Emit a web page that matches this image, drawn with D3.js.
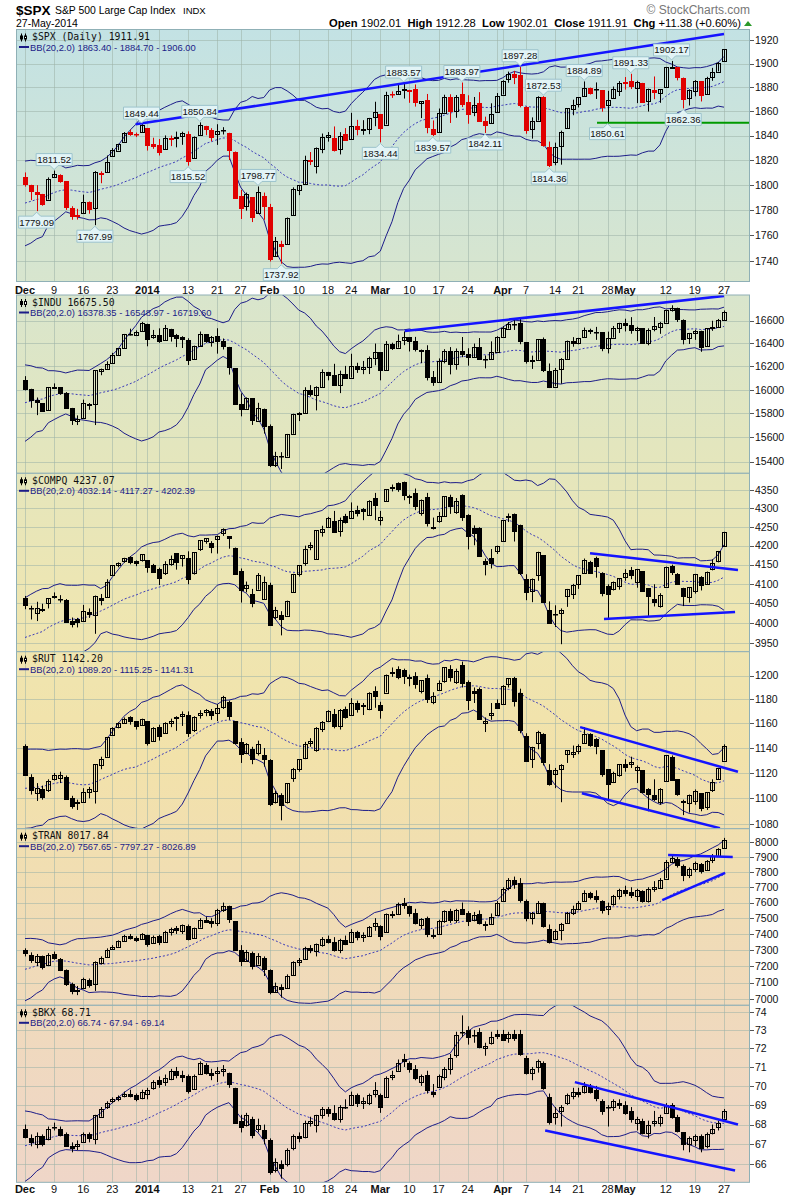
<!DOCTYPE html>
<html>
<head>
<meta charset="utf-8">
<script src="https://cdn.jsdelivr.net/npm/d3@7"></script>
<style>
  body { margin: 0; background: #fff; }
  svg { display: block; font-family: "Liberation Sans", Arial, sans-serif; }
</style>
</head>
<body>
<svg id="chart" width="800" height="1200"></svg>
<script>
// ---- trading days Dec 2 2013 .. May 27 2014 ----
const dates = [
  "Dec 2","Dec 3","Dec 4","Dec 5","Dec 6","Dec 9","Dec 10","Dec 11","Dec 12","Dec 13","Dec 16","Dec 17","Dec 18","Dec 19","Dec 20","Dec 23","Dec 24","Dec 26","Dec 27","Dec 30","Dec 31",
  "Jan 2","Jan 3","Jan 6","Jan 7","Jan 8","Jan 9","Jan 10","Jan 13","Jan 14","Jan 15","Jan 16","Jan 17","Jan 21","Jan 22","Jan 23","Jan 24","Jan 27","Jan 28","Jan 29","Jan 30","Jan 31",
  "Feb 3","Feb 4","Feb 5","Feb 6","Feb 7","Feb 10","Feb 11","Feb 12","Feb 13","Feb 14","Feb 18","Feb 19","Feb 20","Feb 21","Feb 24","Feb 25","Feb 26","Feb 27","Feb 28",
  "Mar 3","Mar 4","Mar 5","Mar 6","Mar 7","Mar 10","Mar 11","Mar 12","Mar 13","Mar 14","Mar 17","Mar 18","Mar 19","Mar 20","Mar 21","Mar 24","Mar 25","Mar 26","Mar 27","Mar 28","Mar 31",
  "Apr 1","Apr 2","Apr 3","Apr 4","Apr 7","Apr 8","Apr 9","Apr 10","Apr 11","Apr 14","Apr 15","Apr 16","Apr 17","Apr 21","Apr 22","Apr 23","Apr 24","Apr 25","Apr 28","Apr 29","Apr 30",
  "May 1","May 2","May 5","May 6","May 7","May 8","May 9","May 12","May 13","May 14","May 15","May 16","May 19","May 20","May 21","May 22","May 23","May 27"
];

// x axis labels (index into dates) and grid positions
const xTickIdx   = [0, 5, 10, 15, 21, 28, 33, 37, 42, 47, 52, 56, 61, 66, 71, 76, 82, 86, 91, 95, 100, 103, 110, 115, 120];
const xTickLabel = ["Dec","9","16","23","2014","13","21","27","Feb","10","18","24","Mar","10","17","24","Apr","7","14","21","28","May","12","19","27"];
const xTickBold  = ["Dec","2014","Feb","Mar","Apr","May"];
const gridIdx    = [0,5,10,15,19,21,23,28,33,37,42,47,52,56,61,66,71,76,81,82,86,91,95,100,103,105,110,115,120];

// ---- closes before Dec 2 (for the 20-day bands) ----
const spxPre  = [1767.93,1762.97,1770.49,1747.15,1770.61,1771.89,1767.69,1782.00,1790.62,1798.18,1791.53,1787.87,1781.37,1795.85,1804.76,1802.48,1802.75,1807.23,1805.81];
const induPre = [15639,15618,15747,15594,15762,15783,15751,15822,15876,15962,15976,15967,15901,16010,16065,16073,16073,16097,16086];
const compPre = [3937,3940,3932,3857,3919,3920,3920,3966,3973,3986,3949,3932,3921,3969,3992,3995,4018,4045,4060];
const rutPre  = [1102,1094,1095,1083,1099,1100,1098,1110,1112,1114,1100,1093,1089,1107,1117,1116,1128,1139,1143];
const tranPre = [7050,7020,7060,7000,7100,7120,7130,7170,7190,7220,7200,7180,7200,7250,7280,7270,7290,7310,7300];
const bkxPre  = [65.5,65.3,65.8,65.2,66.2,66.5,66.6,66.9,67.2,67.6,67.4,67.1,67.0,67.6,68.0,67.9,67.8,67.9,67.7];

// ---- daily [open, high, low, close] ----
const spx = [
[1806.55,1810.02,1798.60,1800.90],[1800.10,1800.10,1787.85,1795.15],[1794.08,1799.80,1779.09,1792.81],[1792.82,1792.82,1783.38,1785.03],[1788.36,1806.04,1788.36,1805.09],
[1806.21,1811.52,1806.21,1808.37],[1807.60,1808.52,1801.75,1802.62],[1802.76,1802.97,1780.09,1782.22],[1781.71,1782.99,1772.28,1775.50],[1776.02,1780.92,1772.45,1775.32],
[1777.48,1792.22,1777.48,1786.54],[1786.47,1786.77,1777.05,1781.00],[1781.46,1811.08,1767.99,1810.65],[1809.00,1810.88,1801.35,1809.60],[1810.39,1823.75,1810.25,1818.32],
[1822.92,1829.75,1822.92,1827.99],[1828.02,1833.32,1828.02,1833.32],[1834.96,1842.84,1834.96,1842.02],[1842.97,1844.89,1839.81,1841.40],[1841.47,1842.47,1838.77,1841.07],[1842.61,1849.44,1842.41,1848.36],
[1845.86,1845.86,1827.74,1831.98],[1833.21,1838.24,1829.13,1831.37],[1832.31,1837.16,1823.73,1826.77],[1828.71,1840.10,1828.71,1837.88],[1837.90,1840.02,1831.40,1837.49],
[1839.00,1843.23,1830.38,1838.13],[1840.06,1843.15,1832.43,1842.37],[1841.26,1843.45,1815.52,1819.20],[1821.36,1839.26,1821.36,1838.88],[1840.52,1850.84,1840.52,1848.38],
[1847.99,1847.99,1840.30,1845.89],[1844.23,1846.04,1835.23,1838.70],[1841.05,1849.31,1832.38,1843.80],[1844.71,1846.87,1840.88,1844.86],[1842.29,1842.29,1820.06,1828.46],
[1826.96,1826.96,1790.29,1790.29],[1791.03,1795.98,1772.88,1781.56],[1783.00,1793.87,1779.49,1792.50],[1790.15,1790.15,1770.45,1774.20],[1777.17,1798.77,1777.17,1794.19],[1790.88,1793.88,1772.26,1782.59],
[1782.68,1784.83,1739.66,1741.89],[1743.82,1758.73,1743.82,1755.20],[1753.38,1755.79,1737.92,1751.64],[1752.99,1774.06,1752.99,1773.43],[1776.01,1798.03,1776.01,1797.02],
[1796.20,1799.94,1791.83,1799.84],[1800.45,1823.54,1800.41,1819.75],[1820.12,1826.55,1815.97,1819.26],[1814.82,1830.25,1809.22,1829.83],[1828.46,1841.65,1825.59,1838.63],
[1839.03,1842.87,1835.01,1840.76],[1838.22,1847.50,1826.99,1828.75],[1829.24,1842.79,1824.58,1839.78],[1841.07,1846.13,1835.60,1836.25],[1836.78,1858.71,1836.78,1847.61],
[1847.66,1852.91,1840.19,1845.12],[1845.79,1852.65,1840.66,1845.16],[1844.90,1854.53,1841.13,1854.29],[1855.12,1867.92,1847.67,1859.45],
[1857.68,1857.68,1834.44,1845.73],[1849.23,1876.23,1849.23,1873.91],[1874.05,1876.53,1871.11,1873.81],[1874.18,1881.94,1874.18,1877.03],[1878.52,1883.57,1870.56,1878.04],
[1877.86,1877.87,1867.04,1877.17],[1878.26,1882.35,1863.88,1867.63],[1866.15,1868.38,1854.38,1868.20],[1869.06,1874.40,1841.86,1846.34],[1845.07,1852.44,1839.57,1841.13],
[1842.81,1862.30,1842.81,1858.83],[1858.92,1873.76,1858.92,1872.25],[1872.25,1874.14,1850.35,1860.77],[1860.09,1873.49,1854.63,1872.01],[1874.53,1883.97,1863.46,1866.52],
[1867.67,1873.34,1849.69,1857.44],[1859.48,1871.87,1855.96,1865.62],[1867.09,1875.92,1852.56,1852.56],[1852.11,1855.55,1842.11,1849.04],[1850.07,1866.63,1850.07,1857.62],[1859.16,1875.18,1859.16,1872.34],
[1873.96,1885.84,1873.96,1885.52],[1886.61,1893.17,1883.79,1890.90],[1891.43,1893.80,1882.65,1888.77],[1890.25,1897.28,1863.26,1865.09],[1863.92,1864.04,1841.48,1845.04],
[1845.48,1854.95,1837.49,1851.96],[1852.64,1872.43,1852.38,1872.18],[1872.28,1872.53,1830.87,1833.08],[1830.65,1835.07,1814.36,1815.69],[1818.18,1834.19,1815.80,1830.61],
[1831.45,1844.02,1816.29,1842.98],[1846.01,1862.31,1846.01,1862.31],[1861.73,1869.63,1856.72,1864.85],[1865.79,1871.89,1863.18,1871.89],[1872.57,1884.89,1872.57,1879.55],
[1879.32,1879.75,1873.91,1875.39],[1878.72,1884.06,1870.24,1878.61],[1877.72,1877.72,1859.70,1863.40],[1865.00,1877.01,1850.61,1869.43],[1870.78,1880.60,1870.78,1878.33],[1877.10,1885.20,1872.69,1883.95],
[1884.66,1888.59,1878.04,1883.68],[1885.30,1891.33,1878.50,1881.14],[1879.45,1885.51,1866.77,1884.66],[1883.69,1883.69,1867.72,1867.72],[1868.53,1878.83,1859.79,1878.21],
[1877.39,1889.07,1870.05,1875.63],[1875.27,1878.57,1867.02,1878.48],[1880.03,1897.13,1880.03,1896.65],[1896.75,1902.17,1896.06,1897.45],[1897.13,1897.13,1885.77,1888.53],
[1888.16,1888.16,1862.36,1870.85],[1871.19,1878.28,1864.82,1877.86],[1876.66,1886.00,1872.42,1885.08],[1884.88,1884.88,1868.14,1872.83],[1874.39,1888.80,1874.39,1888.03],
[1888.19,1896.33,1885.39,1892.49],[1893.32,1901.26,1893.32,1900.53],[1902.01,1912.28,1902.01,1911.91]
];

const indu = [
[16086,16117,15995,16009],[16008,16009,15848,15915],[15910,15935,15786,15890],[15887,15888,15820,15822],[15823,16021,15823,16020],
[16020,16055,16019,16026],[16024,16024,15958,15973],[15972,15981,15842,15844],[15843,15847,15704,15739],[15740,15784,15703,15755],
[15759,15917,15759,15885],[15884,15888,15831,15875],[15876,16168,15703,16168],[16165,16182,16125,16179],[16180,16245,16180,16221],
[16223,16318,16223,16295],[16296,16358,16295,16358],[16360,16483,16360,16480],[16480,16529,16470,16478],[16478,16514,16464,16504],[16504,16589,16504,16577],
[16573,16573,16375,16441],[16456,16518,16440,16470],[16474,16532,16405,16425],[16429,16562,16429,16531],[16527,16528,16416,16463],
[16471,16483,16368,16445],[16453,16463,16360,16437],[16434,16445,16213,16258],[16262,16381,16262,16374],[16377,16504,16377,16482],
[16480,16481,16405,16417],[16414,16465,16372,16459],[16461,16533,16311,16414],[16418,16443,16347,16373],[16370,16370,16130,16197],
[16185,16185,15879,15879],[15880,15970,15776,15838],[15839,15936,15839,15929],[15927,15927,15704,15739],[15743,15890,15743,15849],[15841,15841,15632,15699],
[15698,15708,15356,15373],[15372,15481,15356,15445],[15443,15478,15340,15440],[15443,15629,15443,15629],[15630,15798,15630,15794],
[15794,15811,15736,15802],[15804,16022,15804,15995],[15995,16040,15943,15964],[15958,16030,15826,16028],[16027,16175,16019,16154],
[16154,16154,16081,16130],[16128,16223,16034,16041],[16041,16164,15972,16133],[16134,16205,16097,16103],[16104,16310,16104,16207],
[16206,16232,16145,16180],[16180,16248,16134,16198],[16194,16286,16135,16273],[16274,16399,16211,16322],
[16321,16321,16081,16168],[16170,16420,16170,16396],[16397,16406,16343,16360],[16363,16477,16363,16422],[16424,16505,16385,16453],
[16452,16452,16330,16419],[16421,16457,16330,16351],[16347,16347,16229,16340],[16344,16384,16080,16109],[16106,16161,16034,16066],
[16066,16270,16066,16247],[16249,16350,16227,16336],[16338,16368,16132,16222],[16218,16356,16172,16331],[16332,16456,16280,16303],
[16306,16358,16207,16277],[16279,16399,16279,16368],[16369,16447,16268,16269],[16265,16295,16184,16264],[16264,16418,16264,16323],[16330,16463,16330,16458],
[16458,16551,16458,16533],[16533,16588,16529,16573],[16572,16622,16518,16573],[16575,16631,16393,16413],[16411,16411,16225,16246],
[16244,16294,16179,16256],[16257,16437,16257,16437],[16435,16452,16152,16170],[16162,16226,16015,16027],[16030,16187,16030,16173],
[16176,16272,16052,16263],[16266,16425,16266,16425],[16425,16455,16371,16409],[16408,16449,16392,16449],[16451,16539,16451,16514],
[16514,16529,16482,16502],[16503,16545,16431,16502],[16498,16498,16332,16361],[16363,16503,16313,16449],[16451,16553,16451,16535],[16535,16581,16491,16581],
[16580,16617,16505,16559],[16560,16631,16485,16513],[16510,16546,16420,16531],[16532,16533,16400,16401],[16404,16532,16384,16519],
[16521,16632,16506,16551],[16550,16589,16484,16583],[16584,16697,16584,16695],[16697,16736,16680,16715],[16715,16715,16588,16614],
[16610,16611,16392,16447],[16447,16492,16395,16491],[16491,16520,16431,16512],[16510,16511,16327,16374],[16376,16535,16376,16533],
[16535,16599,16510,16543],[16544,16615,16544,16606],[16605,16690,16605,16676]
];

const comp = [
[4063,4069,4035,4045],[4036,4044,4009,4037],[4025,4054,4005,4038],[4036,4049,4028,4033],[4051,4063,4037,4063],
[4066,4078,4062,4069],[4059,4071,4052,4060],[4059,4061,4001,4004],[4005,4014,3989,3998],[4009,4013,3989,4001],
[4005,4046,4005,4030],[4029,4037,4013,4024],[4022,4070,3973,4070],[4064,4074,4045,4058],[4067,4112,4066,4105],
[4122,4149,4121,4149],[4151,4156,4143,4155],[4160,4168,4155,4167],[4169,4172,4151,4157],[4159,4161,4146,4154],[4161,4177,4158,4177],
[4161,4161,4129,4143],[4149,4152,4131,4132],[4138,4142,4097,4114],[4129,4159,4123,4153],[4154,4174,4147,4166],
[4180,4180,4137,4156],[4167,4175,4145,4175],[4167,4185,4099,4113],[4128,4183,4124,4183],[4191,4215,4186,4215],
[4210,4219,4205,4219],[4208,4212,4180,4198],[4217,4227,4179,4226],[4231,4246,4226,4243],[4225,4225,4192,4219],
[4195,4195,4128,4128],[4134,4140,4052,4084],[4091,4106,4078,4098],[4074,4087,4040,4051],[4085,4128,4085,4123],[4059,4119,4059,4104],
[4098,4103,3993,3997],[4015,4041,4009,4032],[4021,4030,3969,4012],[4019,4057,4019,4057],[4079,4126,4077,4126],
[4125,4149,4119,4148],[4153,4200,4147,4191],[4195,4209,4188,4201],[4165,4241,4164,4241],[4235,4253,4224,4244],
[4248,4277,4247,4273],[4267,4293,4234,4238],[4239,4275,4224,4268],[4278,4285,4259,4263],[4273,4316,4273,4293],
[4296,4307,4278,4288],[4298,4301,4268,4292],[4282,4322,4280,4319],[4328,4342,4268,4308],
[4270,4293,4254,4277],[4319,4352,4319,4352],[4356,4365,4346,4358],[4369,4371,4345,4352],[4372,4373,4322,4336],
[4331,4337,4312,4334],[4342,4354,4295,4307],[4287,4324,4280,4323],[4330,4342,4251,4260],[4249,4275,4243,4245],
[4266,4290,4261,4280],[4280,4333,4278,4333],[4332,4337,4285,4308],[4289,4328,4285,4319],[4337,4338,4266,4277],
[4281,4284,4190,4226],[4248,4254,4201,4234],[4247,4249,4173,4174],[4159,4166,4122,4151],[4168,4191,4140,4156],[4186,4200,4178,4199],
[4212,4268,4212,4268],[4280,4286,4263,4276],[4285,4286,4211,4238],[4255,4256,4123,4128],[4113,4125,4058,4080],
[4083,4114,4053,4113],[4124,4184,4108,4184],[4175,4175,4052,4054],[4033,4055,3998,4000],[4024,4045,3990,4023],
[4027,4037,3947,4034],[4069,4087,4041,4086],[4073,4100,4061,4096],[4099,4122,4087,4122],[4128,4166,4126,4161],
[4157,4160,4126,4127],[4168,4171,4116,4148],[4129,4130,4068,4076],[4094,4099,4009,4074],[4086,4106,4083,4104],[4094,4115,4085,4115],
[4116,4138,4108,4127],[4136,4144,4112,4124],[4104,4139,4090,4138],[4133,4133,4080,4081],[4089,4089,4018,4068],
[4060,4099,4042,4052],[4044,4076,4039,4072],[4093,4145,4093,4144],[4146,4150,4123,4130],[4126,4128,4098,4101],
[4090,4090,4043,4069],[4065,4091,4052,4091],[4081,4126,4075,4126],[4117,4120,4083,4097],[4102,4132,4097,4132],
[4138,4164,4135,4154],[4160,4186,4156,4186],[4200,4237,4199,4237]
];

const rut = [
[1142,1143,1118,1119],[1117,1119,1103,1107],[1104,1112,1098,1108],[1107,1110,1099,1101],[1107,1115,1105,1114],
[1115,1120,1114,1118],[1116,1121,1112,1118],[1117,1118,1099,1100],[1100,1102,1092,1094],[1097,1099,1091,1096],
[1097,1108,1097,1105],[1105,1109,1100,1107],[1106,1127,1096,1127],[1126,1133,1123,1131],[1133,1149,1133,1149],
[1150,1157,1150,1156],[1157,1161,1156,1160],[1161,1165,1160,1164],[1165,1166,1159,1162],[1162,1162,1155,1158],[1159,1164,1158,1164],
[1162,1162,1142,1144],[1145,1157,1145,1156],[1157,1159,1146,1150],[1152,1161,1152,1160],[1160,1164,1157,1162],
[1164,1166,1154,1165],[1166,1170,1158,1168],[1167,1170,1149,1152],[1154,1166,1153,1165],[1167,1171,1164,1169],
[1169,1172,1166,1171],[1170,1172,1163,1167],[1169,1176,1162,1173],[1174,1183,1172,1182],[1178,1179,1163,1166],
[1162,1162,1143,1144],[1145,1148,1128,1135],[1136,1144,1135,1143],[1139,1141,1127,1131],[1136,1146,1134,1143],[1134,1140,1125,1131],
[1130,1131,1094,1095],[1097,1106,1096,1104],[1103,1104,1083,1095],[1097,1112,1096,1112],[1116,1124,1113,1123],
[1123,1131,1121,1131],[1132,1145,1131,1143],[1144,1148,1141,1146],[1138,1157,1137,1156],[1155,1162,1153,1161],
[1162,1171,1161,1170],[1168,1172,1156,1158],[1158,1172,1155,1171],[1172,1174,1164,1165],[1167,1181,1167,1177],
[1177,1179,1169,1172],[1174,1177,1167,1175],[1172,1186,1171,1185],[1187,1191,1173,1183],
[1175,1178,1164,1171],[1186,1201,1186,1201],[1202,1207,1199,1203],[1206,1208,1197,1199],[1205,1206,1193,1200],
[1199,1201,1191,1198],[1200,1203,1189,1193],[1187,1196,1185,1196],[1198,1201,1177,1180],[1178,1186,1176,1183],
[1188,1196,1187,1194],[1195,1207,1194,1207],[1206,1209,1195,1199],[1195,1206,1193,1204],[1209,1212,1190,1194],
[1195,1196,1171,1180],[1187,1190,1177,1185],[1189,1190,1164,1164],[1160,1165,1153,1162],[1167,1177,1163,1169],[1177,1180,1173,1173],
[1176,1192,1176,1191],[1193,1198,1190,1198],[1198,1199,1174,1179],[1185,1189,1152,1154],[1150,1152,1129,1130],
[1131,1141,1124,1141],[1144,1154,1139,1153],[1151,1152,1126,1128],[1122,1127,1110,1111],[1119,1124,1108,1122],
[1123,1127,1097,1126],[1135,1138,1128,1138],[1135,1142,1132,1137],[1138,1143,1135,1142],[1144,1157,1144,1151],
[1151,1152,1141,1142],[1147,1148,1135,1141],[1138,1138,1117,1119],[1123,1123,1098,1111],[1113,1121,1112,1120],[1118,1127,1117,1127],
[1127,1131,1121,1125],[1127,1133,1124,1129],[1123,1126,1112,1125],[1122,1122,1104,1105],[1107,1108,1090,1103],
[1103,1115,1098,1100],[1097,1108,1095,1107],[1113,1134,1113,1134],[1133,1134,1114,1115],[1115,1115,1102,1103],
[1097,1099,1087,1098],[1097,1103,1089,1103],[1098,1107,1095,1106],[1104,1104,1090,1092],[1093,1105,1091,1105],
[1107,1115,1105,1113],[1115,1124,1115,1124],[1130,1143,1130,1142]
];

const tran = [
[7300,7310,7260,7280],[7270,7285,7220,7240],[7230,7275,7200,7265],[7260,7265,7180,7190],[7210,7280,7200,7270],
[7275,7290,7240,7250],[7245,7250,7170,7180],[7175,7180,7080,7090],[7090,7100,7030,7045],[7050,7080,7025,7055],
[7065,7130,7060,7120],[7115,7125,7070,7085],[7090,7230,7050,7225],[7220,7260,7210,7250],[7255,7310,7250,7300],
[7305,7330,7300,7320],[7320,7360,7320,7355],[7360,7395,7355,7390],[7390,7400,7365,7375],[7375,7385,7350,7365],[7370,7405,7365,7400],
[7395,7395,7320,7340],[7345,7390,7340,7380],[7385,7395,7330,7345],[7350,7420,7350,7410],[7410,7440,7390,7430],
[7435,7450,7400,7420],[7420,7460,7400,7455],[7450,7460,7360,7370],[7375,7440,7370,7435],[7440,7500,7440,7490],
[7490,7510,7470,7480],[7480,7500,7440,7465],[7470,7560,7450,7550],[7555,7600,7540,7580],[7575,7580,7470,7490],
[7480,7480,7300,7300],[7300,7330,7200,7230],[7235,7300,7230,7290],[7280,7290,7180,7200],[7210,7280,7210,7265],[7250,7260,7140,7180],
[7175,7180,7030,7040],[7045,7100,7040,7080],[7075,7090,7010,7060],[7065,7150,7065,7140],[7145,7230,7140,7225],
[7225,7250,7200,7240],[7245,7320,7240,7310],[7310,7330,7280,7300],[7290,7340,7260,7335],[7335,7380,7320,7370],
[7370,7390,7340,7350],[7350,7380,7290,7300],[7300,7370,7280,7360],[7365,7390,7330,7340],[7345,7430,7345,7410],
[7410,7420,7360,7380],[7380,7410,7350,7395],[7390,7450,7385,7445],[7450,7500,7420,7470],
[7450,7455,7360,7390],[7410,7530,7410,7525],[7525,7545,7500,7520],[7525,7600,7520,7590],[7595,7630,7560,7580],
[7575,7580,7510,7530],[7535,7560,7460,7470],[7460,7500,7430,7495],[7500,7510,7380,7400],[7395,7430,7370,7390],
[7400,7490,7400,7480],[7480,7550,7470,7545],[7545,7560,7470,7490],[7485,7560,7470,7550],[7560,7600,7520,7530],
[7530,7545,7450,7480],[7490,7540,7480,7520],[7525,7550,7460,7465],[7460,7480,7420,7455],[7465,7530,7460,7510],[7520,7610,7520,7600],
[7610,7700,7605,7690],[7690,7760,7680,7745],[7745,7770,7690,7720],[7730,7760,7600,7620],[7610,7620,7480,7500],
[7500,7540,7460,7530],[7535,7610,7530,7600],[7595,7600,7440,7450],[7430,7460,7340,7350],[7370,7430,7360,7420],
[7420,7470,7360,7460],[7470,7540,7470,7535],[7535,7580,7520,7560],[7560,7610,7550,7600],[7610,7680,7605,7660],
[7660,7670,7620,7635],[7640,7680,7600,7620],[7610,7615,7530,7550],[7560,7600,7520,7580],[7585,7650,7580,7640],[7640,7690,7620,7680],
[7680,7710,7640,7660],[7670,7700,7630,7650],[7640,7690,7610,7680],[7675,7680,7600,7610],[7615,7700,7600,7690],
[7690,7740,7670,7700],[7700,7760,7690,7750],[7760,7880,7760,7870],[7870,7910,7860,7895],[7890,7900,7830,7850],
[7840,7850,7740,7780],[7780,7830,7760,7820],[7820,7870,7800,7860],[7855,7860,7790,7810],[7815,7880,7810,7875],
[7880,7920,7860,7905],[7905,7960,7900,7955],[7965,8030,7960,8018]
];

const bkx = [
[67.8,68.0,67.3,67.4],[67.3,67.5,66.9,67.1],[67.0,67.6,66.8,67.4],[67.4,67.5,66.9,67.0],[67.3,67.9,67.2,67.8],
[67.9,68.1,67.7,67.9],[67.8,67.9,67.4,67.5],[67.5,67.6,66.9,66.9],[66.9,67.1,66.6,66.8],[66.9,67.2,66.7,67.0],
[67.1,67.6,67.1,67.5],[67.5,67.6,67.1,67.3],[67.3,68.5,67.0,68.5],[68.4,68.9,68.4,68.8],[68.9,69.2,68.8,69.1],
[69.2,69.4,69.1,69.3],[69.3,69.5,69.2,69.4],[69.5,69.7,69.4,69.6],[69.6,69.8,69.4,69.5],[69.5,69.6,69.2,69.3],[69.4,69.8,69.3,69.7],
[69.6,69.9,69.3,69.8],[69.9,70.3,69.8,70.2],[70.3,70.5,69.9,70.1],[70.2,70.6,70.0,70.4],[70.4,70.9,70.3,70.8],
[70.8,71.0,70.4,70.6],[70.6,70.8,70.2,70.5],[70.5,70.6,69.6,69.7],[69.8,70.6,69.8,70.5],[70.6,71.3,70.6,71.2],
[71.1,71.2,70.6,70.7],[70.7,70.9,70.3,70.6],[70.7,71.0,70.2,70.8],[70.8,71.1,70.5,70.9],[70.7,70.7,69.9,70.1],
[69.9,69.9,68.1,68.1],[68.2,68.5,67.6,67.9],[68.0,68.6,67.9,68.5],[68.3,68.4,67.3,67.5],[67.8,68.3,67.6,68.0],[67.7,68.0,67.0,67.3],
[67.2,67.3,65.5,65.6],[65.7,66.3,65.6,66.1],[66.0,66.2,65.3,65.8],[66.0,66.8,65.9,66.7],[66.8,67.5,66.7,67.4],
[67.4,67.6,67.1,67.3],[67.4,68.2,67.3,68.1],[68.1,68.4,67.9,68.2],[68.0,68.5,67.6,68.5],[68.5,68.9,68.3,68.8],
[68.8,68.9,68.4,68.6],[68.6,69.0,68.2,68.3],[68.3,69.0,68.1,68.9],[68.9,69.3,68.8,68.9],[69.0,69.7,69.0,69.5],
[69.5,69.6,68.9,69.1],[69.1,69.4,68.8,69.2],[69.1,69.6,69.0,69.5],[69.6,70.2,69.4,69.8],
[69.5,69.6,68.6,68.9],[69.4,70.5,69.4,70.4],[70.5,70.8,70.3,70.6],[70.8,71.4,70.8,71.2],[71.4,71.7,71.0,71.3],
[71.2,71.3,70.7,70.9],[70.9,71.1,70.3,70.4],[70.2,70.6,70.0,70.5],[70.6,70.8,69.6,69.8],[69.7,70.1,69.4,69.6],
[69.9,70.6,69.9,70.5],[70.5,71.0,70.3,70.9],[70.9,71.7,70.6,71.5],[71.6,72.9,71.5,72.7],[72.9,73.8,72.6,72.9],
[73.0,73.2,72.2,72.6],[72.7,73.0,72.3,72.7],[72.9,73.1,72.0,72.1],[72.0,72.3,71.6,72.1],[72.3,72.9,72.2,72.6],[72.8,73.0,72.5,72.7],
[72.8,73.0,72.4,72.5],[72.6,72.9,72.3,72.8],[72.8,73.0,72.4,72.6],[72.8,73.0,71.6,71.7],[71.5,71.6,70.6,70.7],
[70.7,71.0,70.3,70.9],[71.0,71.4,70.7,71.3],[71.2,71.3,69.8,69.9],[69.4,69.6,68.0,68.1],[68.4,68.9,68.0,68.6],
[68.7,69.0,67.9,68.9],[69.1,69.6,69.0,69.5],[69.5,69.9,69.3,69.7],[69.7,69.9,69.4,69.6],[69.7,70.2,69.6,70.0],
[70.0,70.1,69.6,69.7],[69.8,70.0,69.2,69.4],[69.2,69.3,68.5,68.7],[68.9,69.0,67.9,68.9],[68.9,69.3,68.7,69.2],[69.1,69.3,68.8,69.0],
[69.0,69.2,68.5,68.6],[68.7,68.9,68.1,68.3],[68.1,68.4,67.7,68.3],[68.2,68.3,67.5,67.6],[67.6,68.2,67.3,68.0],
[68.1,68.7,67.9,68.2],[68.1,68.5,67.9,68.4],[68.6,69.1,68.6,69.0],[69.0,69.1,68.3,68.4],[68.4,68.5,67.6,67.7],
[67.6,67.6,66.7,67.0],[67.0,67.4,66.6,67.3],[67.2,67.5,66.9,67.4],[67.4,67.5,66.6,66.8],[66.9,67.6,66.8,67.5],
[67.6,68.0,67.5,67.8],[67.9,68.2,67.7,68.1],[68.3,68.8,68.3,68.7]
];

// ---- legends, ticks, annotations ----
const panelTitles = ["$SPX (Daily) 1911.91", "$INDU 16675.50", "$COMPQ 4237.07", "$RUT 1142.20", "$TRAN 8017.84", "$BKX 68.71"];
const bbLegends = [
  "BB(20,2.0) 1863.40 - 1884.70 - 1906.00",
  "BB(20,2.0) 16378.35 - 16548.97 - 16719.60",
  "BB(20,2.0) 4032.14 - 4117.27 - 4202.39",
  "BB(20,2.0) 1089.20 - 1115.25 - 1141.31",
  "BB(20,2.0) 7567.65 - 7797.27 - 8026.89",
  "BB(20,2.0) 66.74 - 67.94 - 69.14"
];
const spxTicks  = [1740,1760,1780,1800,1820,1840,1860,1880,1900,1920];
const induTicks = [15400,15600,15800,16000,16200,16400,16600];
const compTicks = [3950,4000,4050,4100,4150,4200,4250,4300,4350];
const rutTicks  = [1080,1100,1120,1140,1160,1180,1200];
const tranTicks = [7000,7100,7200,7300,7400,7500,7600,7700,7800,7900,8000];
const bkxTicks  = [66,67,68,69,70,71,72,73,74];

// [index, price] pairs for the drawn trend lines
const spxTrend  = [[[19,1849.2],[120,1925.1]]];
const spxSupport = [[98.2,1850.61],[124.4,1850.61]];
const induTrend = [[[65.2,16509],[120,16820]]];
const compTrend = [[[97,4180],[122.4,4136]], [[99.4,4010],[121.9,4028]]];
const rutTrend  = [[[95.3,1157],[122.4,1121]], [[95.6,1104],[119.3,1077]]];
const tranTrend = [[[110.4,7914],[121.5,7900]], [[109.4,7616],[120.2,7795]]];
const bkxTrend  = [[[94.4,70.2],[122.4,68.0]], [[89.3,67.7],[121.9,65.7]]];

// SPX price flags: [index, value, high/low]
const spxFlags = [
  [2,1779.09,"L"],[5,1811.52,"H"],[12,1767.99,"L"],[20,1849.44,"H"],[28,1815.52,"L"],[30,1850.84,"H"],
  [40,1798.77,"H"],[44,1737.92,"L"],[61,1834.44,"L"],[65,1883.57,"H"],[70,1839.57,"L"],[75,1883.97,"H"],
  [79,1842.11,"L"],[85,1897.28,"H"],[89,1872.53,"H"],[90,1814.36,"L"],[96,1884.89,"H"],[100,1850.61,"L"],
  [104,1891.33,"H"],[111,1902.17,"H"],[113,1862.36,"L"]
];

// ---- layout ----
const svg = d3.select("#chart");
const plotL = 16, plotR = 750;
const x = d3.scaleLinear().domain([0, 120]).range([25, 724]);

const panels = [
  {top: 29.5,  bot: 281.5,  dom: [1724.2, 1929],  rows: spx,  pre: spxPre,  ticks: spxTicks,  trends: spxTrend,  colored: true},
  {top: 295,   bot: 473.3,  dom: [15305, 16828],  rows: indu, pre: induPre, ticks: induTicks, trends: induTrend},
  {top: 473.3, bot: 651.7,  dom: [3928.4, 4396],  rows: comp, pre: compPre, ticks: compTicks, trends: compTrend},
  {top: 651.7, bot: 828.7,  dom: [1076.6, 1220.6],rows: rut,  pre: rutPre,  ticks: rutTicks,  trends: rutTrend},
  {top: 828.7, bot: 1005.3, dom: [6964.4, 8093],  rows: tran, pre: tranPre, ticks: tranTicks, trends: tranTrend},
  {top: 1005.3,bot: 1182.3, dom: [65.12, 74.36],  rows: bkx,  pre: bkxPre,  ticks: bkxTicks,  trends: bkxTrend}
];

// background gradient spanning all panels
const defs = svg.append("defs");
const grad = defs.append("linearGradient").attr("id", "bg")
  .attr("gradientUnits", "userSpaceOnUse").attr("x1", 0).attr("y1", 29.5).attr("x2", 0).attr("y2", 1182.3);
[[0,"#c3e2e4"],[0.2,"#d6e5d0"],[0.36,"#e3e6be"],[0.5,"#eee6b2"],[0.63,"#f2e2aa"],[0.8,"#f0dbb8"],[1,"#efd6c8"]]
  .forEach(s => grad.append("stop").attr("offset", s[0]).attr("stop-color", s[1]));

function bollinger(pre, rows) {
  const closes = pre.concat(rows.map(r => r[3]));
  return rows.map((r, i) => {
    const w = closes.slice(i + pre.length - 19, i + pre.length + 1);
    const m = d3.mean(w);
    const sd = Math.sqrt(d3.mean(w, v => (v - m) * (v - m)));
    return {i: i, mid: m, up: m + 2 * sd, lo: m - 2 * sd};
  });
}

panels.forEach((p, k) => {
  const y = d3.scaleLog().domain(p.dom).range([p.bot, p.top]);
  const g = svg.append("g");

  g.append("rect").attr("x", plotL).attr("y", p.top).attr("width", plotR - plotL).attr("height", p.bot - p.top)
    .attr("fill", "url(#bg)");

  defs.append("clipPath").attr("id", "clip" + k).append("rect")
    .attr("x", plotL).attr("y", p.top).attr("width", plotR - plotL).attr("height", p.bot - p.top);

  // grid
  g.selectAll(".vg").data(gridIdx).join("line")
    .attr("x1", d => Math.round(x(d)) + 0.5).attr("x2", d => Math.round(x(d)) + 0.5)
    .attr("y1", p.top).attr("y2", p.bot)
    .attr("stroke", "#9db3a8").attr("stroke-opacity", 0.55).attr("stroke-width", 1);
  g.selectAll(".hg").data(p.ticks).join("line")
    .attr("x1", plotL).attr("x2", plotR)
    .attr("y1", d => Math.round(y(d)) + 0.5).attr("y2", d => Math.round(y(d)) + 0.5)
    .attr("stroke", "#9db3a8").attr("stroke-opacity", 0.55).attr("stroke-width", 1);

  // y ticks on the right
  const ya = g.selectAll(".yt").data(p.ticks).join("g");
  ya.append("line").attr("x1", plotR).attr("x2", plotR + 4)
    .attr("y1", d => Math.round(y(d)) + 0.5).attr("y2", d => Math.round(y(d)) + 0.5)
    .attr("stroke", "#555");
  ya.append("text").attr("x", plotR + 5).attr("y", d => y(d) + 3.8)
    .attr("font-size", "10.5px").attr("fill", "#111").text(d => d);

  const pg = g.append("g").attr("clip-path", "url(#clip" + k + ")");

  // Bollinger bands
  const bb = bollinger(p.pre, p.rows);
  const lineOf = key => d3.line().x(d => x(d.i)).y(d => y(d[key]));
  pg.append("path").datum(bb).attr("d", lineOf("up")).attr("fill", "none").attr("stroke", "#1c1c88").attr("stroke-width", 1);
  pg.append("path").datum(bb).attr("d", lineOf("lo")).attr("fill", "none").attr("stroke", "#1c1c88").attr("stroke-width", 1);
  pg.append("path").datum(bb).attr("d", lineOf("mid")).attr("fill", "none").attr("stroke", "#3a3ab8")
    .attr("stroke-width", 1).attr("stroke-dasharray", "2,2");

  // candles
  const prevClose = i => i === 0 ? p.pre[p.pre.length - 1] : p.rows[i - 1][3];
  const candles = pg.selectAll(".c").data(p.rows.map((r, i) => ({i: i, o: r[0], h: r[1], l: r[2], c: r[3]}))).join("g");
  const col = d => (p.colored && d.c < prevClose(d.i)) ? "#e00000" : "#000";
  candles.append("line")
    .attr("x1", d => Math.round(x(d.i)) + 0.5).attr("x2", d => Math.round(x(d.i)) + 0.5)
    .attr("y1", d => y(d.h)).attr("y2", d => y(d.l))
    .attr("stroke", col).attr("stroke-width", 1);
  candles.append("rect")
    .attr("x", d => Math.round(x(d.i)) - 1.5).attr("width", 4)
    .attr("y", d => Math.round(y(Math.max(d.o, d.c))) + 0.5)
    .attr("height", d => Math.max(0.5, Math.round(Math.abs(y(d.o) - y(d.c)))))
    .attr("fill", d => d.c < d.o ? col(d) : "none")
    .attr("stroke", col).attr("stroke-width", 1);

  // trend lines
  p.trends.forEach(t => {
    pg.append("line").attr("x1", x(t[0][0])).attr("y1", y(t[0][1])).attr("x2", x(t[1][0])).attr("y2", y(t[1][1]))
      .attr("stroke", "#1414ff").attr("stroke-width", 2.5);
  });

  if (k === 0) {
    pg.append("line").attr("x1", x(spxSupport[0][0])).attr("y1", y(spxSupport[0][1]))
      .attr("x2", x(spxSupport[1][0])).attr("y2", y(spxSupport[1][1]))
      .attr("stroke", "#009a00").attr("stroke-width", 2);

    // price flags
    spxFlags.forEach(f => {
      const cx = x(f[0]);
      const py = y(f[1]);
      const txt = f[1].toFixed(2);
      const w = 36, h = 12;
      const hi = f[2] === "H";
      const by = hi ? py - 5 - h : py + 5;
      const tip = hi ? py - 1 : py + 1;
      const edge = hi ? by + h : by;
      const path = hi
        ? `M${cx - w / 2},${by} H${cx + w / 2} V${edge} H${cx + 4} L${cx},${tip} L${cx - 4},${edge} H${cx - w / 2} Z`
        : `M${cx - w / 2},${by + h} H${cx + w / 2} V${edge} H${cx + 4} L${cx},${tip} L${cx - 4},${edge} H${cx - w / 2} Z`;
      g.append("path").attr("d", path).attr("fill", "#e2f4f6").attr("stroke", "#9cc3cc").attr("stroke-width", 1);
      g.append("text").attr("x", cx).attr("y", by + 9.5).attr("text-anchor", "middle")
        .attr("font-size", "9.6px").attr("fill", "#111").text(txt);
    });
  }

  // legend
  const lg = g.append("g");
  const ix = 20, iy = p.top + 4;
  lg.append("line").attr("x1", ix + 1.5).attr("x2", ix + 1.5).attr("y1", iy).attr("y2", iy + 8).attr("stroke", "#000");
  lg.append("rect").attr("x", ix).attr("y", iy + 2).attr("width", 3).attr("height", 4).attr("fill", "#000");
  lg.append("line").attr("x1", ix + 5.5).attr("x2", ix + 5.5).attr("y1", iy).attr("y2", iy + 8).attr("stroke", "#000");
  lg.append("rect").attr("x", ix + 4.5).attr("y", iy + 2.5).attr("width", 2).attr("height", 3).attr("fill", "#fff").attr("stroke", "#000");
  lg.append("text").attr("x", 32).attr("y", p.top + 10.5)
    .attr("font-family", "'DejaVu Sans Mono', monospace").attr("font-size", "9.8px").attr("fill", "#111")
    .text(panelTitles[k]);
  lg.append("line").attr("x1", 19).attr("x2", 29).attr("y1", p.top + 17.5).attr("y2", p.top + 17.5)
    .attr("stroke", "#1c1c88").attr("stroke-width", 2);
  lg.append("text").attr("x", 30).attr("y", p.top + 21)
    .attr("font-size", "9.4px").attr("fill", "#1c1c88").text(bbLegends[k]);

  // frame
  g.append("rect").attr("x", plotL + 0.5).attr("y", p.top).attr("width", plotR - plotL - 1).attr("height", p.bot - p.top)
    .attr("fill", "none").attr("stroke", "#8fb0b6").attr("stroke-width", 1);
});

// x axis labels (under first panel and at the bottom)
[294, 1193].forEach(by => {
  svg.append("g").selectAll("text").data(xTickIdx).join("text")
    .attr("x", (d, i) => x(d)).attr("y", by).attr("text-anchor", "middle")
    .attr("font-size", "11px")
    .attr("font-weight", (d, i) => xTickBold.includes(xTickLabel[i]) ? "bold" : "normal")
    .attr("fill", "#111")
    .text((d, i) => xTickLabel[i]);
});

// header
svg.append("text").attr("x", 16).attr("y", 15).attr("font-size", "13.5px").attr("font-weight", "bold").text("$SPX");
svg.append("text").attr("x", 55).attr("y", 14).attr("font-size", "10.4px").text("S&P 500 Large Cap Index");
svg.append("text").attr("x", 183).attr("y", 14).attr("font-size", "9.5px").text("INDX");
svg.append("text").attr("x", 16).attr("y", 26.5).attr("font-size", "10.5px").text("27-May-2014");
svg.append("text").attr("x", 750).attr("y", 14).attr("text-anchor", "end").attr("font-size", "12px").attr("fill", "#777")
  .text("\u00A9 StockCharts.com");

const quote = [["Open", "1902.01"], ["High", "1912.28"], ["Low", "1902.01"], ["Close", "1911.91"], ["Chg", "+11.38 (+0.60%)"]];
const qt = svg.append("text").attr("x", 741).attr("y", 26.5).attr("text-anchor", "end").attr("font-size", "11.2px")
  .attr("xml:space", "preserve");
quote.forEach((q, i) => {
  qt.append("tspan").attr("font-weight", "bold").text((i ? "  " : "") + q[0] + " ");
  qt.append("tspan").text(q[1]);
});
svg.append("path").attr("d", "M744,26 L748,21 L752,26 Z").attr("fill", "#2a9a2a");
</script>
</body>
</html>
